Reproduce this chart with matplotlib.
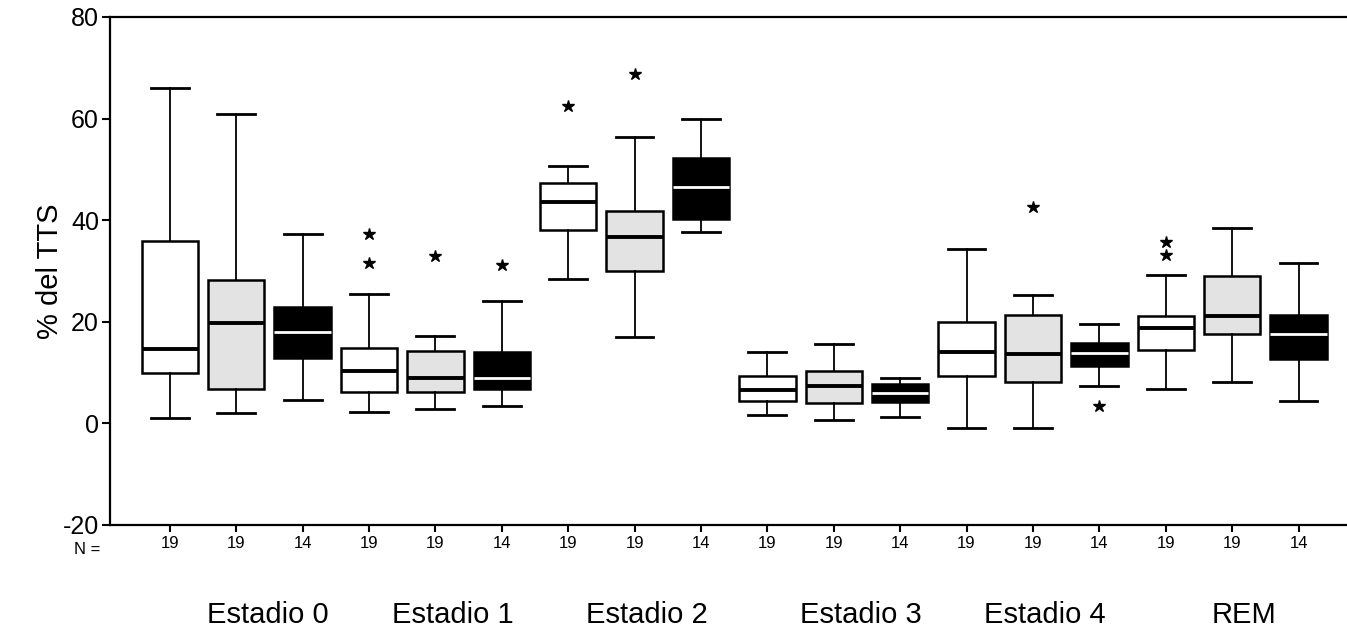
import matplotlib
matplotlib.use("Agg")
import matplotlib.pyplot as plt

plt.rcParams['font.family'] = ['Liberation Sans', 'DejaVu Sans']
plt.rcParams['axes.unicode_minus'] = False

# ---- data ----
stages = ["Estadio 0", "Estadio 1", "Estadio 2", "Estadio 3", "Estadio 4", "REM"]
n_values = [19, 19, 14] * 6
whis_lo = [1.1, 2.0, 4.6,   2.3, 2.8, 3.4,   28.5, 17.1, 37.7,
           1.6, 0.65, 1.2,  -0.85, -0.85, 7.3,  6.7, 8.1, 4.4]
q1 = [10.0, 6.8, 12.9,   6.2, 6.2, 6.8,   38.1, 29.9, 40.3,
      4.4, 4.1, 4.2,   9.3, 8.2, 11.2,   14.4, 17.5, 12.6]
med = [14.6, 19.8, 17.9,   10.4, 9.0, 9.0,   43.6, 36.7, 46.6,
       6.6, 7.3, 5.9,   14.1, 13.7, 13.8,   18.7, 21.1, 17.6]
q3 = [36.0, 28.2, 23.0,   14.9, 14.2, 14.1,   47.4, 41.9, 52.3,
      9.3, 10.4, 7.7,   19.9, 21.3, 15.9,   21.1, 29.0, 21.3]
whis_hi = [66.1, 61.0, 37.2,   25.4, 17.2, 24.1,   50.7, 56.4, 60.0,
           14.0, 15.7, 8.9,   34.3, 25.3, 19.5,   29.3, 38.4, 31.6]
outliers = [[], [], [],   [31.6, 37.2], [32.9], [31.1],   [62.5], [68.8], [],
            [], [], [],   [], [42.5], [3.5],   [33.1, 35.8], [], []]
group_fill = ["white", "#e3e3e3", "black"]
label_offsets = [0.48, 0.26, 0.18, 0.41, 0.18, 0.18]

# ---- figure ----
fig = plt.figure(figsize=(13.47, 6.41), dpi=100)
ax = fig.add_axes([0.0817, 0.181, 0.9183, 0.7925])

stats = []
for i in range(len(med)):
    stats.append(dict(med=med[i], q1=q1[i], q3=q3[i], whislo=whis_lo[i],
                      whishi=whis_hi[i], fliers=outliers[i]))
positions = list(range(1, len(med) + 1))

bp = ax.bxp(stats, positions=positions, widths=0.85, capwidths=0.57,
            patch_artist=True, showfliers=True,
            boxprops=dict(linewidth=1.8, edgecolor='black'),
            whiskerprops=dict(linewidth=1.3, color='black'),
            capprops=dict(linewidth=2.0, color='black'),
            medianprops=dict(linewidth=2.8, color='black'),
            flierprops=dict(marker='*', markersize=9, markerfacecolor='black',
                            markeredgecolor='black', linestyle='none'))

for i, box in enumerate(bp['boxes']):
    fc = group_fill[i % 3]
    box.set_facecolor(fc)
    if fc == 'black':
        bp['medians'][i].set_color('white')
        bp['medians'][i].set_linewidth(2.0)

ax.set_xlim(0.1, 18.73)
ax.set_ylim(-20, 80)
ax.set_yticks([-20, 0, 20, 40, 60, 80])
ax.tick_params(axis='y', direction='out', length=6, width=1.5, labelsize=18, pad=2)
ax.set_ylabel("% del TTS", fontsize=21, labelpad=-1)

ax.set_xticks(positions)
ax.set_xticklabels([str(n) for n in n_values], fontsize=12)
ax.tick_params(axis='x', direction='out', length=5, width=1.5, pad=3)

for side in ['left', 'bottom', 'top']:
    ax.spines[side].set_linewidth(1.6)
ax.spines['right'].set_visible(False)

# "N =" label
ax.annotate("N =", xy=(0, 0), xycoords='axes fraction',
            xytext=(-7, -18), textcoords='offset points',
            ha='right', va='center', fontsize=12, annotation_clip=False)

# stage labels
for g, name in enumerate(stages):
    xc = positions[g * 3 + 1] + label_offsets[g]
    ax.annotate(name, xy=(xc, 0), xycoords=('data', 'axes fraction'),
                xytext=(0, -65), textcoords='offset points',
                ha='center', va='center', fontsize=21, annotation_clip=False)

fig.savefig("out.png", dpi=100)
